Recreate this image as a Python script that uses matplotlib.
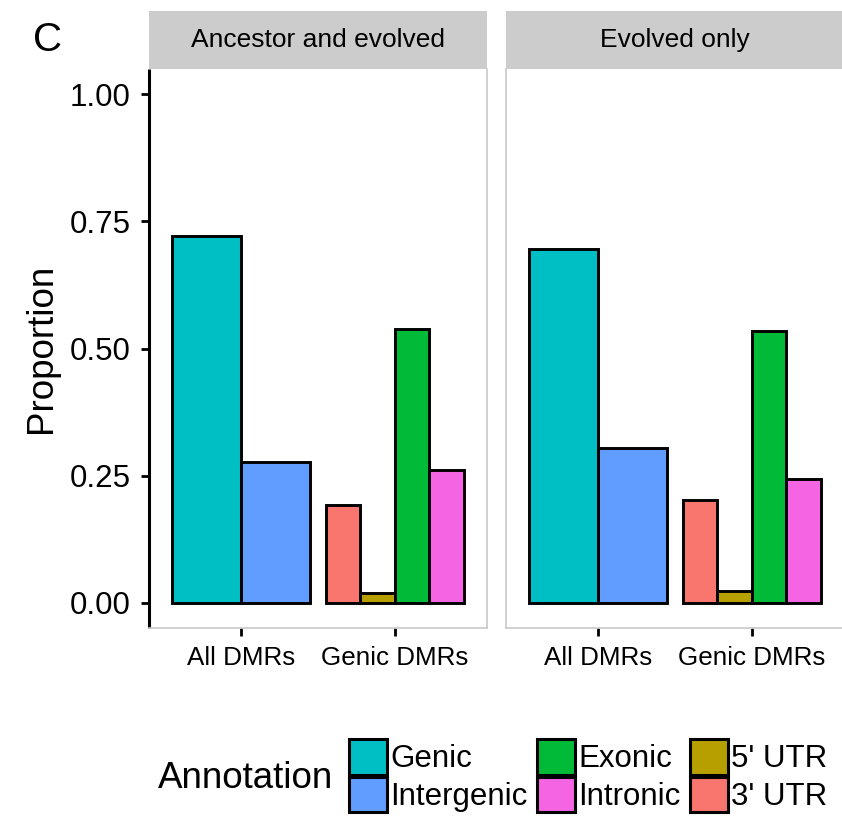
import numpy as np
import matplotlib.pyplot as plt
from matplotlib.patches import Patch

plt.rcParams['font.family'] = ['Liberation Sans', 'DejaVu Sans']

# proportions per facet
panels = ["Ancestor and evolved", "Evolved only"]
groups = ["All DMRs", "Genic DMRs"]
all_labels = ["Genic", "Intergenic"]
all_vals = {"Ancestor and evolved": [0.722, 0.276],
            "Evolved only": [0.696, 0.304]}
genic_labels = ["3' UTR", "5' UTR", "Exonic", "Intronic"]
genic_vals = {"Ancestor and evolved": [0.192, 0.018, 0.539, 0.261],
              "Evolved only": [0.202, 0.022, 0.535, 0.243]}
yticks = [0.0, 0.25, 0.5, 0.75, 1.0]

colors = {"Genic": "#00BFC4", "Intergenic": "#619CFF", "Exonic": "#00BA38",
          "Intronic": "#F564E3", "5' UTR": "#B79F00", "3' UTR": "#F8766D"}
legend_order = ["Genic", "Intergenic", "Exonic", "Intronic", "5' UTR", "3' UTR"]

W, H = 842, 819
fig = plt.figure(figsize=(W / 100, H / 100), dpi=100)

def px_axes(x0, y0, w, h):
    # pixel box measured from the top-left corner
    return fig.add_axes([x0 / W, 1 - (y0 + h) / H, w / W, h / H])

panel_x = [149, 506]
panel_w = 338
grid = "#C8C8C8"
edge_lw = 2.1

for i, name in enumerate(panels):
    ax = px_axes(panel_x[i], 69, panel_w, 559)
    xs = np.arange(len(groups))

    w2 = 0.9 / len(all_labels)
    for j, lab in enumerate(all_labels):
        off = -0.45 + w2 * (j + 0.5)
        ax.bar(xs[0] + off, all_vals[name][j], width=w2, color=colors[lab],
               edgecolor="black", linewidth=edge_lw, zorder=3)
    w4 = 0.9 / len(genic_labels)
    for j, lab in enumerate(genic_labels):
        off = -0.45 + w4 * (j + 0.5)
        ax.bar(xs[1] + off, genic_vals[name][j], width=w4, color=colors[lab],
               edgecolor="black", linewidth=edge_lw, zorder=3)

    ax.set_xlim(-0.6, 1.6)
    ax.set_ylim(-0.05, 1.05)
    ax.set_xticks(xs)
    ax.set_xticklabels(groups, fontsize=18.7)
    ax.set_yticks(yticks)
    ax.tick_params(axis="x", length=6, width=2, pad=7, colors="black")
    ax.tick_params(axis="y", length=6, width=2, pad=7, labelsize=22.5)
    for side in ["top", "right", "bottom", "left"]:
        ax.spines[side].set_color(grid)
        ax.spines[side].set_linewidth(1.2)
    ax.spines["top"].set_visible(False)
    if i == 0:
        ax.set_yticklabels(["%.2f" % v for v in yticks])
        ax.spines["left"].set_color("black")
        ax.spines["left"].set_linewidth(2.2)
        ax.spines["left"].set_capstyle("butt")
        ax.set_ylabel("Proportion", fontsize=26.5, labelpad=8)
    else:
        ax.tick_params(axis="y", left=False, labelleft=False)

    # facet strip
    sax = px_axes(panel_x[i], 11, panel_w, 58)
    sax.set_facecolor("#CCCCCC")
    sax.set_xticks([])
    sax.set_yticks([])
    for s in sax.spines.values():
        s.set_visible(False)
    sax.text(0.5, 0.5, name, ha="center", va="center", fontsize=19,
             transform=sax.transAxes)

fig.text(48 / W, 1 - 40 / H, "C", fontsize=29, ha="center", va="center")

handles = [Patch(facecolor=colors[k], edgecolor="black", linewidth=2.2)
           for k in legend_order]
fig.legend(handles, legend_order, loc="upper left",
           bbox_to_anchor=(349 / W, 1 - 739 / H), ncol=3, frameon=False,
           fontsize=22.5, handlelength=1.2, handleheight=1.38,
           handletextpad=0.12, columnspacing=0.3, labelspacing=0.06,
           borderpad=0, borderaxespad=0)
fig.text(158 / W, 1 - 778 / H, "Annotation", fontsize=26.5, ha="left",
         va="center")

fig.savefig("out.png", dpi=100)
